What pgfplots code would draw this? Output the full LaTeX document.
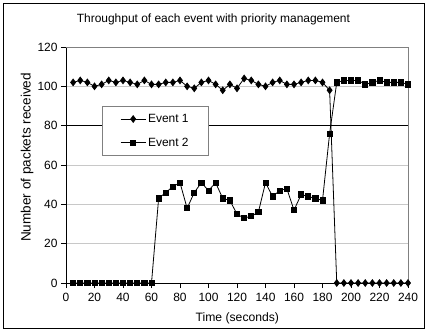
\documentclass[border=0pt]{standalone}
\usepackage{pgfplots}
\pgfplotsset{compat=1.18}
\usepackage{fontspec}
\setmainfont{Liberation Sans}
\definecolor{gridgray}{RGB}{200,200,200}
\definecolor{framegray}{RGB}{128,128,128}
\begin{document}
\begin{tikzpicture}[x=1bp,y=1bp]
\path (0,0) rectangle (428,332);
\draw[black, line width=0.9bp] (3,4) rectangle (424,329);
\begin{axis}[
  at={(66bp,49bp)}, anchor=south west,
  scale only axis, width=342bp, height=236bp,
  xmin=0, xmax=240, ymin=0, ymax=120,
  xtick={0,20,...,240}, ytick={0,20,...,120},
  axis lines=left, axis line style={-, black, line width=0.8bp},
  tick align=outside, major tick length=5bp,
  tick style={black, line width=0.8bp},
  ymajorgrids, grid style={gridgray, line width=0.8bp},
  /pgf/number format/assume math mode=true,
  tick label style={font=\fontsize{12}{14}\selectfont},
  xticklabel style={yshift=-2bp},
  clip=false,
  title={Throughput of each event with priority management},
  title style={at={(0.431,1.093)}, anchor=center, font=\fontsize{12}{14}\selectfont},
  xlabel={Time (seconds)},
  xlabel style={at={(0.501,-0.148)}, anchor=center, font=\fontsize{12.2}{14}\selectfont},
  ylabel={Number of packets received},
  ylabel style={at={(-0.114,0.532)}, anchor=center, rotate=0, font=\fontsize{13.6}{16}\selectfont},
  legend style={at={(0.105,0.751)}, anchor=north west, draw=framegray, fill=white,
    line width=0.8bp, inner xsep=18bp, inner ysep=6bp, row sep=10bp,
    font=\fontsize{12}{14}\selectfont, cells={anchor=west}},
  legend image code/.code={\draw[#1, mark repeat=2, mark phase=2] plot coordinates {(0bp,0bp) (12.5bp,0bp) (25bp,0bp)};},
]
\draw[framegray, line width=0.8bp] (rel axis cs:0,1) -- (rel axis cs:1,1) -- (rel axis cs:1,0);
\draw[black, line width=0.8bp] (axis cs:0,80) -- (axis cs:240,80);
\addplot[black, line width=0.8bp, mark=diamond*, mark size=3.3bp] coordinates {
(5,102) (10,103) (15,102) (20,100) (25,101) (30,103) (35,102) (40,103) (45,102) (50,101)
(55,103) (60,101) (65,101) (70,102) (75,102) (80,103) (85,100) (90,99) (95,102) (100,103)
(105,101) (110,98) (115,101) (120,99) (125,104) (130,103) (135,101) (140,100) (145,102) (150,103)
(155,101) (160,101) (165,102) (170,103) (175,103) (180,102) (185,98) (190,0) (195,0) (200,0)
(205,0) (210,0) (215,0) (220,0) (225,0) (230,0) (235,0) (240,0)
};
\addlegendentry{Event 1}
\addplot[black, line width=0.8bp, mark=square*, mark size=2.6bp] coordinates {
(5,0) (10,0) (15,0) (20,0) (25,0) (30,0) (35,0) (40,0) (45,0) (50,0)
(55,0) (60,0) (65,43) (70,46) (75,49) (80,51) (85,38) (90,46) (95,51) (100,47)
(105,51) (110,43) (115,42) (120,35) (125,33) (130,34) (135,36) (140,51) (145,44) (150,47)
(155,48) (160,37) (165,45) (170,44) (175,43) (180,42) (185,76) (190,102) (195,103) (200,103)
(205,103) (210,101) (215,102) (220,103) (225,102) (230,102) (235,102) (240,101)
};
\addlegendentry{Event 2}
\end{axis}
\end{tikzpicture}
\end{document}
